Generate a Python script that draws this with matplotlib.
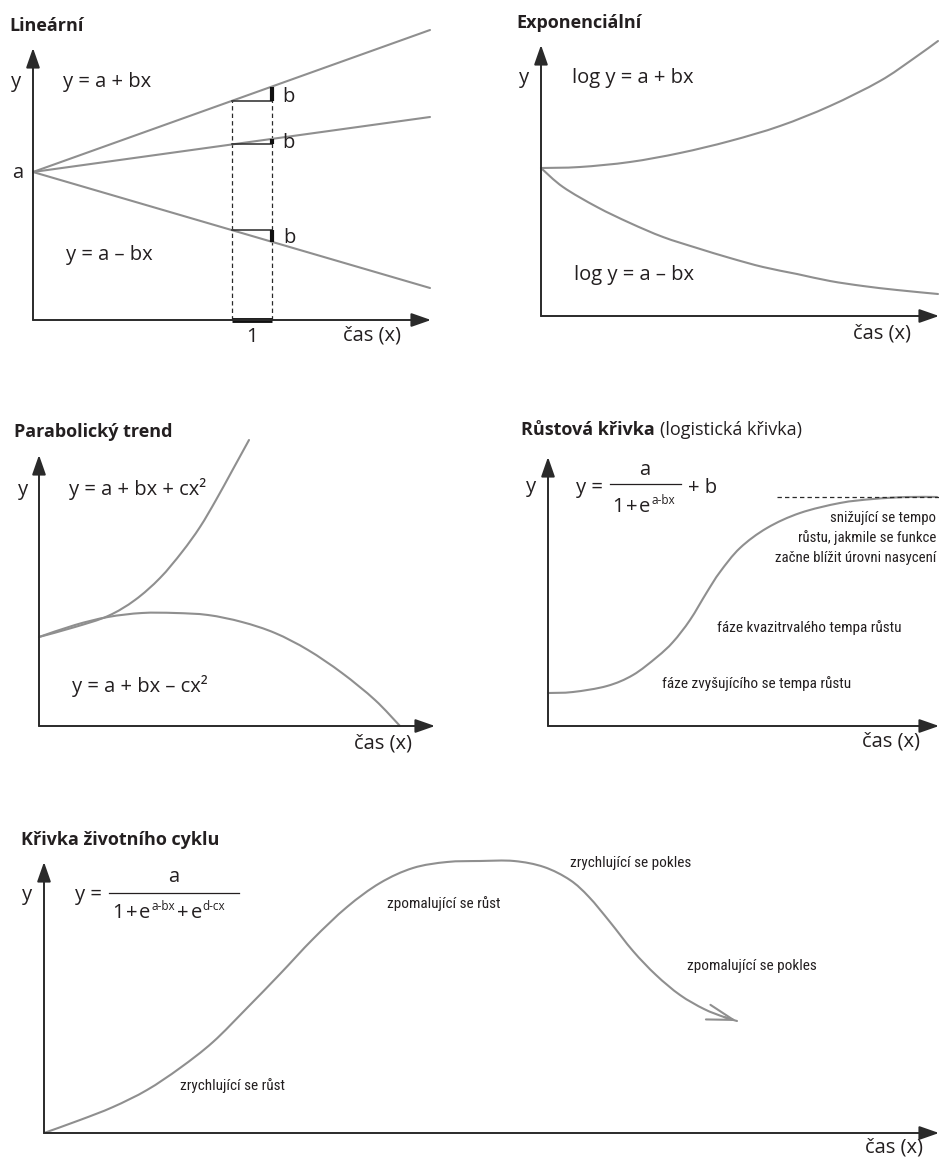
import numpy as np
import matplotlib
matplotlib.use("Agg")
import matplotlib.pyplot as plt
from matplotlib.lines import Line2D
from matplotlib.path import Path
from matplotlib.patches import PathPatch
from matplotlib import font_manager

# ---------------- data (arbitrary units) ----------------
# Lineární
lin_x = [0, 397]
lin_up = [148, 290]
lin_mid = [148, 203]
lin_down = [148, 32]
lin_unit = [199, 239]

# Exponenciální
exp_x_up = [0, 39, 89, 139, 189, 239, 289, 339, 372, 397]
exp_y_up = [148, 149, 154, 163, 175, 190, 210, 235, 257, 275]
exp_x_dn = [0, 22, 56, 89, 122, 156, 189, 222, 256, 289, 322, 356, 397]
exp_y_dn = [148, 129, 109, 93, 79, 68, 58, 49, 42, 35, 30, 26, 22]

# Parabolický trend
par_x_up = [0, 36, 69, 96, 121, 143, 161, 177, 193, 210]
par_y_up = [89, 99, 110, 126, 148, 174, 199, 226, 255, 286]
par_x_dn = [0, 36, 69, 103, 136, 169, 203, 236, 269, 303, 336, 361]
par_y_dn = [89, 101, 109, 113, 113, 111, 104, 93, 76, 53, 26, 0]

# Růstová křivka
log_x = [0, 25, 59, 85, 109, 125, 142, 159, 172, 192, 219, 252, 292, 325, 359, 389]
log_y = [33, 34, 40, 51, 69, 84, 106, 134, 154, 178, 198, 213, 223, 227, 229, 229]
log_sat_level = 229
log_sat_start = 229

# Křivka životního cyklu
lc_x = [0, 36, 69, 103, 136, 169, 203, 236, 269, 303, 336, 369, 403, 436, 470,
        500, 526, 545, 566, 589, 612, 636, 660, 680, 693]
lc_y = [0, 13, 26, 43, 65, 91, 125, 159, 194, 226, 250, 265, 271, 272, 272,
        266, 253, 236, 211, 182, 158, 138, 124, 116, 112]

# ---------------- styling ----------------
W, H = 939, 1158
AX = "#2a2a2a"
CURVE = "#8f8f8f"
TXT = "#231f20"
SANS = ["Open Sans", "DejaVu Sans"]

ttf = font_manager.fontManager.ttflist
names = {f.name for f in ttf}
NARROW, NSIZE, NSTRETCH = ["DejaVu Sans"], 8.0, "normal"
for cand, size in [("Liberation Sans Narrow", 11.3), ("Roboto Condensed", 11.0),
                   ("Open Sans Condensed", 11.0)]:
    if cand in names:
        NARROW, NSIZE = [cand, "DejaVu Sans"], size
        break
else:
    if any(f.name == "DejaVu Sans" and f.stretch == "condensed" for f in ttf):
        NSTRETCH, NSIZE = "condensed", 9.2

fig = plt.figure(figsize=(W / 100, H / 100), dpi=100)
fig.patch.set_facecolor("white")


def fx(x):
    return x / W


def fy(y):
    return 1 - y / H


def panel(ox, oy, tipx, tipy):
    ax = fig.add_axes([fx(ox), fy(oy), (tipx - ox) / W, (oy - tipy) / H])
    ax.set_xlim(0, tipx - ox)
    ax.set_ylim(0, oy - tipy)
    ax.set_axis_off()
    style = "-|>,head_length=1.2,head_width=0.42"
    for xy in [(1, 0), (0, 1)]:
        ax.annotate("", xy=xy, xytext=(0, 0), xycoords="axes fraction",
                    textcoords="axes fraction",
                    arrowprops=dict(arrowstyle=style, color=AX, lw=1.4,
                                    shrinkA=0, shrinkB=0))
    return ax


def smooth(ax, xs, ys, **kw):
    """Draw a smooth curve through the read points (Catmull-Rom as Bezier path)."""
    p = np.column_stack([xs, ys]).astype(float)
    ext = np.vstack([p[0], p, p[-1]])
    verts = [p[0]]
    codes = [Path.MOVETO]
    for i in range(len(p) - 1):
        p0, p1, p2, p3 = ext[i], ext[i + 1], ext[i + 2], ext[i + 3]
        c1 = p1 + (p2 - p0) / 6.0
        c2 = p2 - (p3 - p1) / 6.0
        verts += [c1, c2, p2]
        codes += [Path.CURVE4] * 3
    patch = PathPatch(Path(verts, codes), fill=False, edgecolor=CURVE, lw=1.5,
                      clip_on=False, capstyle="round", joinstyle="round", **kw)
    ax.add_patch(patch)
    return patch


def txt(x, y, s, size=14.5, weight="normal", ha="left", family=None, stretch="normal"):
    return fig.text(fx(x), fy(y), s, fontsize=size, weight=weight, ha=ha,
                    va="baseline", color=TXT, family=family or SANS,
                    fontstretch=stretch)


def ntxt(x, y, s, ha="left", size=None):
    return txt(x, y, s, size=size or NSIZE, ha=ha, family=NARROW, stretch=NSTRETCH)


renderer = fig.canvas.get_renderer()


def chain(x, y, parts):
    for s, size, dy, weight, gap in parts:
        t = txt(x + gap, y + dy, s, size=size, weight=weight)
        x = t.get_window_extent(renderer).x1
    return x


def bar(x0, x1, y):
    fig.add_artist(Line2D([fx(x0), fx(x1)], [fy(y), fy(y)], color=TXT, lw=0.9))


curve_kw = dict(color=CURVE, lw=1.5, clip_on=False, solid_capstyle="round")

# ================= Lineární =================
ax1 = panel(33, 320, 431, 48)
dash_kw = dict(color=AX, lw=0.9, ls=(0, (3.5, 2.5)))
top_l = np.interp(lin_unit[0], lin_x, lin_up)
top_r = np.interp(lin_unit[1], lin_x, lin_up)
ax1.plot([lin_unit[0]] * 2, [0, top_l], **dash_kw)
ax1.plot([lin_unit[1]] * 2, [0, top_r], **dash_kw)
for line in (lin_up, lin_mid, lin_down):
    ax1.plot(lin_x, line, **curve_kw)
for line in (lin_up, lin_mid, lin_down):
    y1 = np.interp(lin_unit[0], lin_x, line)
    y2 = np.interp(lin_unit[1], lin_x, line)
    ax1.plot(lin_unit, [y1, y1], color=AX, lw=1.1)
    ax1.plot([lin_unit[1]] * 2, [y1, y2], color="#111111", lw=3.0, solid_capstyle="butt")
ax1.plot(lin_unit, [0, 0], color="#111111", lw=3.5, solid_capstyle="butt", clip_on=False)

txt(9, 31, "Lineární", size=13, weight="bold")
txt(11, 87, "y")
txt(63, 87, "y = a + bx")
txt(12, 178, "a")
txt(282, 102, "b")
txt(282, 148, "b")
txt(283, 243, "b")
txt(66, 260, "y = a – bx")
txt(252, 342, "1", ha="center")
txt(343, 341, "čas (x)")

# ================= Exponenciální =================
ax2 = panel(541, 316, 939, 45)
smooth(ax2, exp_x_up, exp_y_up)
smooth(ax2, exp_x_dn, exp_y_dn)
txt(516, 28, "Exponenciální", size=13, weight="bold")
txt(519, 83, "y")
txt(572, 83, "log y = a + bx")
txt(574, 280, "log y = a – bx")
txt(853, 339, "čas (x)")

# ================= Parabolický trend =================
ax3 = panel(39, 726, 435, 455)
smooth(ax3, par_x_up, par_y_up)
smooth(ax3, par_x_dn, par_y_dn)
txt(14, 437, "Parabolický trend", size=13, weight="bold")
txt(18, 495, "y")
txt(69, 495, "y = a + bx + cx²")
txt(72, 692, "y = a + bx – cx²")
txt(354, 748, "čas (x)")

# ================= Růstová křivka =================
ax4 = panel(548, 726, 939, 457)
ax4.plot([log_sat_start, ax4.get_xlim()[1]], [log_sat_level] * 2, color=AX, lw=0.9,
         ls=(0, (3.5, 2.5)), clip_on=False)
smooth(ax4, log_x, log_y)
chain(521, 435, [("Růstová křivka", 13, 0, "bold", 0),
                 ("(logistická křivka)", 13, 0, "normal", 5)])
txt(526, 492, "y")
txt(576, 493, "y =")
bar(610, 681, 484)
txt(645, 475, "a", ha="center")
chain(612, 512, [("1", 14.5, 0, "normal", 0), ("+", 14.5, 0, "normal", 2),
                 ("e", 14.5, 0, "normal", 2), ("a-bx", 8.5, -8, "normal", 1)])
txt(688, 493, "+ b")
ntxt(936, 522, "snižující se tempo", ha="right", size=NSIZE * 0.97)
ntxt(936, 542, "růstu, jakmile se funkce", ha="right", size=NSIZE * 0.97)
ntxt(936, 562, "začne blížit úrovni nasycení", ha="right", size=NSIZE * 0.97)
ntxt(717, 632, "fáze kvazitrvalého tempa růstu")
ntxt(662, 688, "fáze zvyšujícího se tempa růstu")
txt(862, 747, "čas (x)")

# ================= Křivka životního cyklu =================
ax5 = panel(44, 1133, 939, 862)
smooth(ax5, lc_x, lc_y)
ax5.annotate("", xy=(lc_x[-1], lc_y[-1]), xytext=(lc_x[-2], lc_y[-2]),
             arrowprops=dict(arrowstyle="->,head_length=1.9,head_width=0.55",
                             color=CURVE, lw=1.5, shrinkA=0, shrinkB=0))
txt(21, 845, "Křivka životního cyklu", size=13, weight="bold")
txt(22, 900, "y")
txt(75, 900, "y =")
bar(109, 239, 893)
txt(174, 882, "a", ha="center")
chain(112, 918, [("1", 14.5, 0, "normal", 0), ("+", 14.5, 0, "normal", 2),
                 ("e", 14.5, 0, "normal", 2), ("a-bx", 8.5, -8, "normal", 1),
                 ("+", 14.5, 0, "normal", 2), ("e", 14.5, 0, "normal", 2),
                 ("d-cx", 8.5, -8, "normal", 1)])
ntxt(387, 908, "zpomalující se růst")
ntxt(570, 867, "zrychlující se pokles")
ntxt(687, 970, "zpomalující se pokles")
ntxt(180, 1090, "zrychlující se růst")
txt(865, 1152, "čas (x)")

fig.savefig("out.png", dpi=100, facecolor="white")
